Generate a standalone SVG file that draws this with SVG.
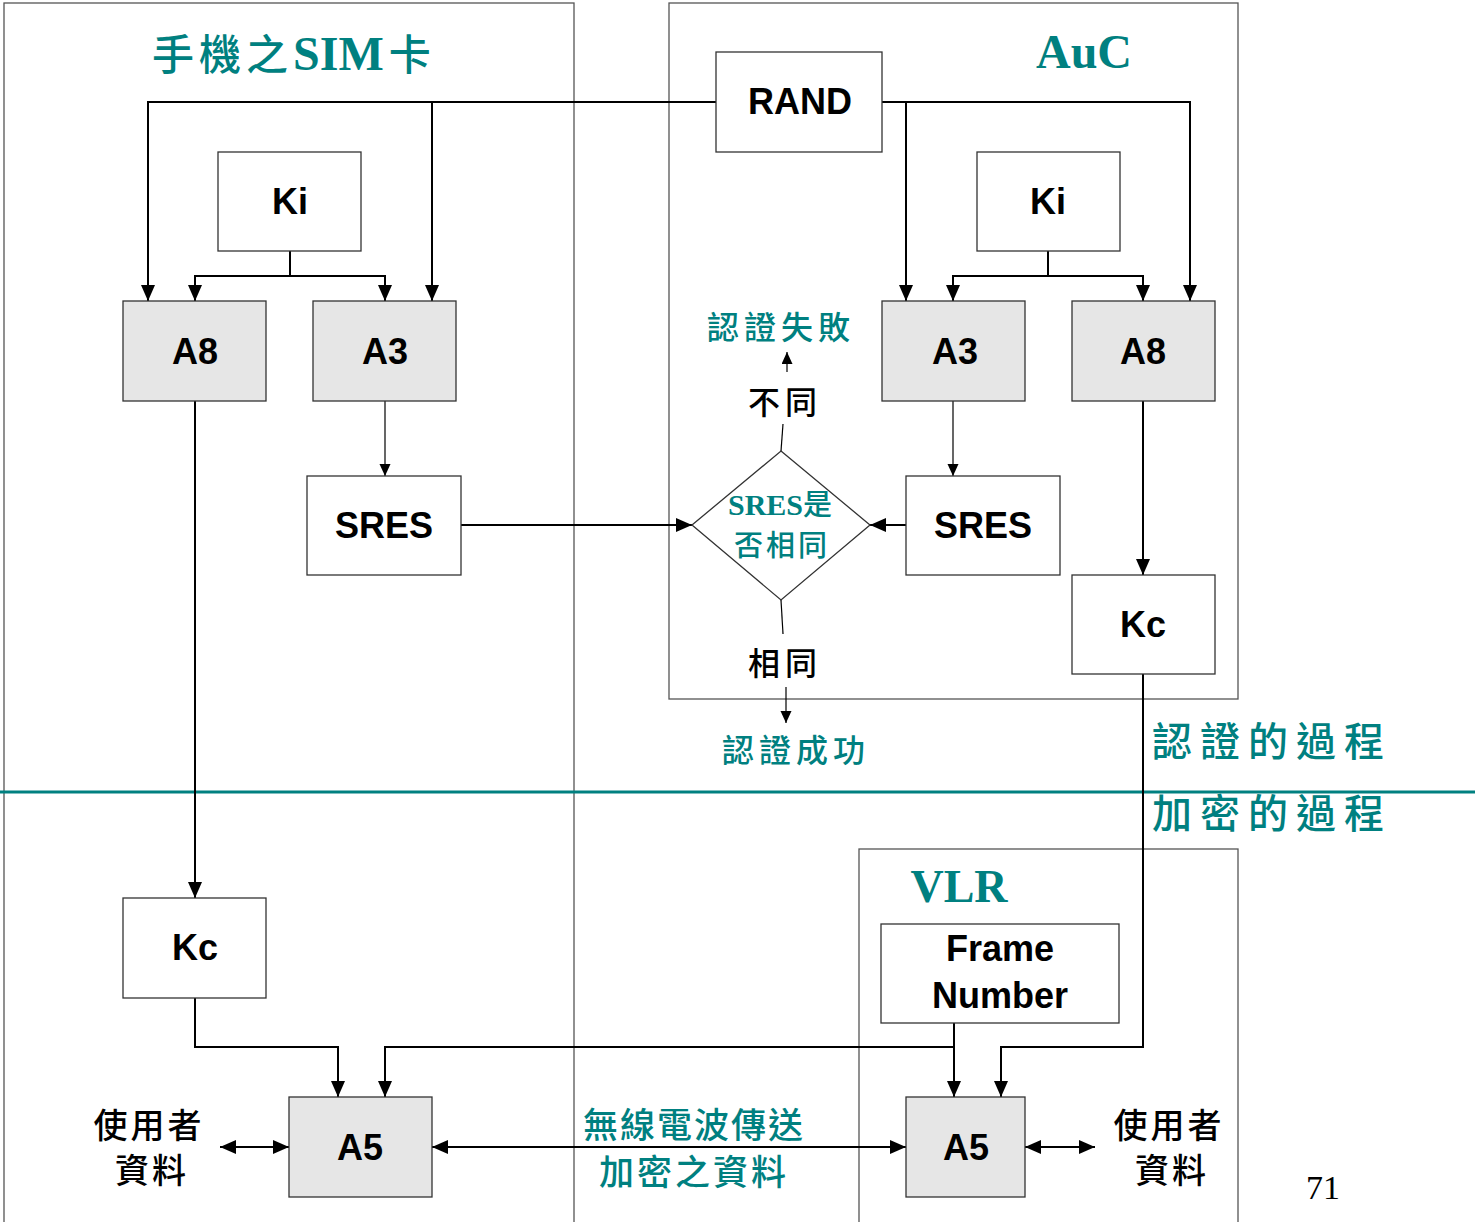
<svg xmlns="http://www.w3.org/2000/svg" width="1475" height="1222" viewBox="0 0 1475 1222">
<style>
.panel{fill:none;stroke:#555;stroke-width:1.3}
.box{fill:#fff;stroke:#333;stroke-width:1.3}
.gbox{fill:#e6e6e6;stroke:#333;stroke-width:1.3}
.lbl{font-family:"Liberation Sans",Arial,sans-serif;font-weight:bold;font-size:36px;fill:#000;text-anchor:middle}
.cn{font-family:"Noto Sans CJK TC","Noto Sans CJK SC",sans-serif;font-size:32px;font-weight:500;text-anchor:middle}
.teal{fill:#008080}
.blk{fill:#000}
.ttl{font-family:"Liberation Serif","Times New Roman",serif;font-weight:bold;fill:#008080}
.ln{fill:none;stroke:#000;stroke-width:2}
.thin{fill:none;stroke:#000;stroke-width:1.2}
</style>
<defs>
<marker id="ah" markerUnits="userSpaceOnUse" markerWidth="18" markerHeight="16" refX="16" refY="7" orient="auto-start-reverse">
<path d="M0,0 L16,7 L0,14 z" fill="#000"/>
</marker>
<marker id="ahs" markerUnits="userSpaceOnUse" markerWidth="14" markerHeight="12" refX="12" refY="5.5" orient="auto-start-reverse">
<path d="M0,0 L12,5.5 L0,11 z" fill="#000"/>
</marker>
</defs>
<rect width="1475" height="1222" fill="#fff"/>
<g id="panels">
<rect class="panel" x="4" y="3" width="570" height="1230"/>
<rect class="panel" x="669" y="3" width="569" height="696"/>
<rect class="panel" x="859" y="849" width="379" height="390"/>
<line x1="0" y1="792" x2="1475" y2="792" stroke="#008080" stroke-width="3"/>
</g>
<g id="titles">
<text x="152" y="70"><tspan class="cn teal" style="text-anchor:start;font-size:42px;letter-spacing:5px">手機之</tspan><tspan class="ttl" font-size="48">SIM</tspan><tspan class="cn teal" dx="5" style="text-anchor:start;font-size:42px">卡</tspan></text>
<text class="ttl" x="1084" y="68" font-size="48" text-anchor="middle">AuC</text>
<text class="ttl" x="959" y="902" font-size="46" text-anchor="middle">VLR</text>
</g>
<g id="connectors">
<path class="ln" d="M716,102 H148 V301" marker-end="url(#ah)"/>
<path class="ln" d="M432,102 V301" marker-end="url(#ah)"/>
<path class="ln" d="M882,102 H1190 V301" marker-end="url(#ah)"/>
<path class="ln" d="M906,102 V301" marker-end="url(#ah)"/>
<path class="ln" d="M290,251 V276 H195 V301" marker-end="url(#ah)"/>
<path class="ln" d="M290,276 H385 V301" marker-end="url(#ah)"/>
<path class="ln" d="M1048,251 V276 H953 V301" marker-end="url(#ah)"/>
<path class="ln" d="M1048,276 H1143 V301" marker-end="url(#ah)"/>
<path class="thin" d="M385,401 V476" marker-end="url(#ahs)"/>
<path class="thin" d="M953,401 V476" marker-end="url(#ahs)"/>
<path class="ln" d="M195,401 V898" marker-end="url(#ah)"/>
<path class="ln" d="M1143,401 V575" marker-end="url(#ah)"/>
<path class="ln" d="M461,525 H692" marker-end="url(#ah)"/>
<path class="ln" d="M906,525 H870" marker-end="url(#ah)"/>
<path class="thin" d="M781,451 L783,424"/>
<path class="thin" d="M787,372 V352" marker-end="url(#ahs)"/>
<path class="thin" d="M781,600 L783,634"/>
<path class="thin" d="M786,687 V723" marker-end="url(#ahs)"/>
<path class="ln" d="M1143,674 V1047 H1001 V1097" marker-end="url(#ah)"/>
<path class="ln" d="M954,1023 V1097" marker-end="url(#ah)"/>
<path class="ln" d="M954,1047 H385 V1097" marker-end="url(#ah)"/>
<path class="ln" d="M195,998 V1047 H338 V1097" marker-end="url(#ah)"/>
<path class="ln" d="M432,1147 H906" marker-start="url(#ah)" marker-end="url(#ah)"/>
<path class="ln" d="M220,1147 H289" marker-start="url(#ah)" marker-end="url(#ah)"/>
<path class="ln" d="M1025,1147 H1095" marker-start="url(#ah)" marker-end="url(#ah)"/>
</g>
<g id="RAND"><rect class="box" x="716" y="52" width="166" height="100"/><text class="lbl" x="800" y="114">RAND</text></g>
<g id="Ki-sim"><rect class="box" x="218" y="152" width="143" height="99"/><text class="lbl" x="290" y="214">Ki</text></g>
<g id="A8-sim"><rect class="gbox" x="123" y="301" width="143" height="100"/><text class="lbl" x="195" y="364">A8</text></g>
<g id="A3-sim"><rect class="gbox" x="313" y="301" width="143" height="100"/><text class="lbl" x="385" y="364">A3</text></g>
<g id="SRES-sim"><rect class="box" x="307" y="476" width="154" height="99"/><text class="lbl" x="384" y="538">SRES</text></g>
<g id="Kc-sim"><rect class="box" x="123" y="898" width="143" height="100"/><text class="lbl" x="195" y="960">Kc</text></g>
<g id="A5-sim"><rect class="gbox" x="289" y="1097" width="143" height="100"/><text class="lbl" x="360" y="1160">A5</text></g>
<g id="Ki-auc"><rect class="box" x="977" y="152" width="143" height="99"/><text class="lbl" x="1048" y="214">Ki</text></g>
<g id="A3-auc"><rect class="gbox" x="882" y="301" width="143" height="100"/><text class="lbl" x="955" y="364">A3</text></g>
<g id="A8-auc"><rect class="gbox" x="1072" y="301" width="143" height="100"/><text class="lbl" x="1143" y="364">A8</text></g>
<g id="SRES-auc"><rect class="box" x="906" y="476" width="154" height="99"/><text class="lbl" x="983" y="538">SRES</text></g>
<g id="Kc-auc"><rect class="box" x="1072" y="575" width="143" height="99"/><text class="lbl" x="1143" y="637">Kc</text></g>
<g id="compare">
<polygon points="781,451 870,525 781,600 692,525" fill="#fff" stroke="#333" stroke-width="1.3"/>
<text class="ttl" x="780" y="515" font-size="30" text-anchor="middle">SRES<tspan class="cn teal" style="font-size:29px">是</tspan></text>
<text class="cn teal" x="782" y="556" style="font-size:29px;letter-spacing:3px">否相同</text>
</g>
<g id="FrameNumber"><rect class="box" x="881" y="924" width="238" height="99"/><text class="lbl" x="1000" y="961">Frame</text><text class="lbl" x="1000" y="1008">Number</text></g>
<g id="A5-vlr"><rect class="gbox" x="906" y="1097" width="119" height="100"/><text class="lbl" x="966" y="1160">A5</text></g>
<g id="labels">
<text class="cn teal" x="781" y="339" style="letter-spacing:5px">認證失敗</text>
<text class="cn blk" x="785" y="414" style="letter-spacing:5px">不同</text>
<text class="cn blk" x="785" y="675" style="letter-spacing:5px">相同</text>
<text class="cn teal" x="796" y="762" style="letter-spacing:5px">認證成功</text>
<text class="cn teal" x="1272" y="756" style="font-size:40px;letter-spacing:8px">認證的過程</text>
<text class="cn teal" x="1272" y="828" style="font-size:40px;letter-spacing:8px">加密的過程</text>
<text class="cn teal" x="694" y="1138" style="font-size:35px;letter-spacing:2px">無線電波傳送</text>
<text class="cn teal" x="694" y="1185" style="font-size:35px;letter-spacing:3px">加密之資料</text>
<text class="cn blk" x="149" y="1138" style="font-size:34px;letter-spacing:3px">使用者</text>
<text class="cn blk" x="152" y="1183" style="font-size:34px;letter-spacing:3px">資料</text>
<text class="cn blk" x="1169" y="1138" style="font-size:34px;letter-spacing:3px">使用者</text>
<text class="cn blk" x="1172" y="1183" style="font-size:34px;letter-spacing:3px">資料</text>
<text x="1323" y="1199" font-family="'Liberation Serif','Times New Roman',serif" font-size="34" text-anchor="middle">71</text>
</g>
</svg>
